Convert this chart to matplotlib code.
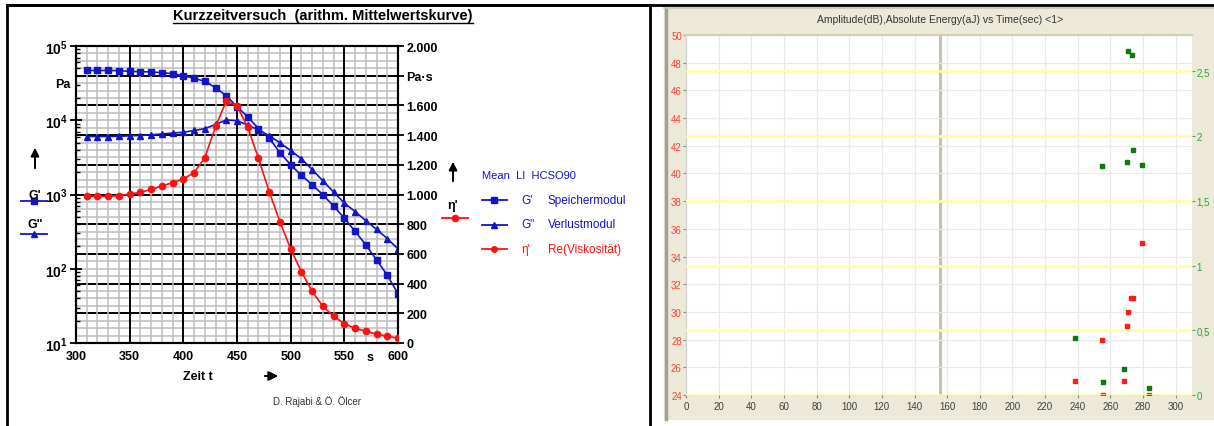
import matplotlib
matplotlib.use('Agg')
import matplotlib.pyplot as plt
from matplotlib.lines import Line2D
from matplotlib.patches import Rectangle
from matplotlib.ticker import FixedFormatter, LogLocator, NullFormatter
from matplotlib.transforms import blended_transform_factory

plt.rcParams['font.family'] = ['Liberation Sans', 'DejaVu Sans']
plt.rcParams['mathtext.fontset'] = 'custom'
plt.rcParams['mathtext.rm'] = 'Liberation Sans'
plt.rcParams['mathtext.bf'] = 'Liberation Sans:bold'

# Kurzzeitversuch: Mittelwerte G', G'' (Pa) und eta' (Pa*s) über der Zeit (s)
zeit = [310, 320, 330, 340, 350, 360, 370, 380, 390, 400,
        410, 420, 430, 440, 450, 460, 470, 480, 490, 500,
        510, 520, 530, 540, 550, 560, 570, 580, 590, 600]
speichermodul = [46800, 46800, 46800, 46500, 45600, 45100, 44700, 43700, 42400, 39800,
                 36700, 33500, 27400, 21400, 15200, 11100, 7740, 5730, 3660, 2510,
                 1810, 1360, 990, 700, 480, 320, 210, 132, 82, 46]
verlustmodul = [6040, 6040, 6040, 6080, 6170, 6230, 6370, 6530, 6730, 6880,
                7280, 7700, 8770, 10100, 9860, 8630, 7390, 6190, 4970, 3910,
                3030, 2170, 1530, 1080, 768, 590, 444, 340, 255, 185]
viskositaet = [988, 988, 988, 992, 1003, 1015, 1034, 1057, 1080, 1104,
               1148, 1247, 1458, 1628, 1598, 1452, 1244, 1019, 817, 633,
               480, 348, 247, 180, 130, 99, 79, 61, 45, 32]
eta_ticks = [0, 200, 400, 600, 800, 1000, 1200, 1400, 1600, 1800, 2000]
eta_ticklabels = ['0', '200', '400', '600', '800', '1.000', '1.200', '1.400', '1.600', 'Pa·s', '2.000']

# Schallemission: Amplitude (dB) und absolute Energie (aJ) über der Zeit (s)
ae_zeit_amp = [238.5, 254.8, 255.3, 268.1, 270.0, 270.9, 272.6, 274.1, 279.4, 283.9]
amplitude = [25, 28, 24, 25, 29, 30, 31, 31, 35, 24]
ae_zeit_energie = [238.5, 255.0, 255.3, 268.1, 270.0, 270.7, 273.3, 274.1, 279.4, 283.9]
energie = [0.44, 1.77, 0.10, 0.20, 1.80, 2.655, 2.627, 1.89, 1.776, 0.052]
energie_ticks = [0, 0.5, 1, 1.5, 2, 2.5]
energie_ticklabels = ['0', '0,5', '1', '1,5', '2', '2,5']
cursor_zeit = 155.6

W, H = 1214, 427
BLAU = '#1414c8'
ROT = '#ff1010'


def box(x0, y0, x1, y1):
    return [x0 / W, 1 - y1 / H, (x1 - x0) / W, (y1 - y0) / H]


def px(x, y):
    return x / W, 1 - y / H


def fig_line(x0, x1, y0, y1, **kw):
    fig.add_artist(Line2D([x0 / W, x1 / W], [1 - y0 / H, 1 - y1 / H], **kw))


def fig_arrow(x0, y0, x1, y1, **kw):
    fig.add_artist(plt.Annotation('', xy=px(x1, y1), xytext=px(x0, y0),
                                  xycoords='figure fraction', textcoords='figure fraction',
                                  arrowprops=dict(arrowstyle='-|>', color='black', lw=1.4, **kw)))


fig = plt.figure(figsize=(W / 100, H / 100), dpi=100)

# ---------- linkes Diagramm ----------
fig.add_artist(Rectangle(px(7, 440), 643 / W, 434 / H, fill=False, lw=2, ec='black'))
fig_line(7, W, 5.5, 5.5, color='black', lw=2)

ax1 = fig.add_axes(box(76, 47, 398, 344))
ax1.set_yscale('log')
ax1.set_xlim(300, 600)
ax1.set_ylim(10, 1e5)
ax2 = ax1.twinx()
ax2.set_ylim(0, 2000)

# Gitter: senkrecht alle 10 s, waagerecht alle 50 Pa*s
ax1.set_xticks(range(300, 601, 50))
ax1.set_xticks(range(300, 601, 10), minor=True)
ax1.grid(which='minor', axis='x', color='#bdbdbd', lw=1.1, zorder=0)
ax1.grid(which='major', axis='x', color='black', lw=1.4, zorder=0.5)
trans = blended_transform_factory(ax1.transAxes, ax2.transData)
for v in range(0, 2001, 50):
    major = v % 200 == 0
    ax1.plot([0, 1], [v, v], transform=trans, color='black' if major else '#bdbdbd',
             lw=1.4 if major else 1.1, zorder=0.5 if major else 0)

ax1.plot(zeit, speichermodul, color=BLAU, lw=1.2, marker='s', ms=5, zorder=3)
ax1.plot(zeit, verlustmodul, color=BLAU, lw=1.2, marker='^', ms=5, zorder=3)
ax2.plot(zeit, viskositaet, color=ROT, lw=1.2, marker='o', ms=4.5, zorder=3)

ax1.yaxis.set_major_locator(LogLocator(base=10, numticks=10))
ax1.yaxis.set_minor_locator(LogLocator(base=10, subs=range(2, 10), numticks=50))
ax1.yaxis.set_minor_formatter(NullFormatter())
ax1.set_yticks([10, 100, 1000, 10000, 100000])
ax1.set_yticklabels([r'$\mathbf{10^{%d}}$' % e for e in range(1, 6)])
ax1.tick_params(axis='y', which='major', direction='inout', length=8, width=1.3,
                labelsize=10, pad=2)
ax1.tick_params(axis='y', which='minor', direction='in', length=3, width=1)
ax1.tick_params(axis='x', which='both', length=0, labelsize=9, pad=5)
for lbl in ax1.get_xticklabels():
    lbl.set_fontweight('bold')

ax2.set_yticks(eta_ticks)
ax2.yaxis.set_major_formatter(FixedFormatter(eta_ticklabels))
ax2.tick_params(axis='y', direction='out', length=4, width=1.3, labelsize=9, pad=2)
for lbl in ax2.get_yticklabels():
    lbl.set_fontweight('bold')
for ax in (ax1, ax2):
    for sp in ax.spines.values():
        sp.set_linewidth(1.5)

titel = fig.text(*px(323, 16), 'Kurzzeitversuch  (arithm. Mittelwertskurve)',
                 ha='center', va='center', fontsize=10.5, fontweight='bold')
fig.canvas.draw()
bb = titel.get_window_extent()
fig.add_artist(Line2D([bb.x0 / W, bb.x1 / W], [(bb.y0 - 1) / H] * 2, color='black', lw=1))

fig.text(*px(55, 85), 'Pa', fontsize=9, fontweight='bold', va='center')
fig.text(*px(370, 358), 's', fontsize=9, fontweight='bold', va='center', ha='center')
fig.text(*px(183, 377), 'Zeit t', fontsize=9, fontweight='bold', va='center')
fig_arrow(262, 377, 281, 377, mutation_scale=14)
fig.text(*px(273, 402), 'D. Rajabi & Ö. Ölcer', fontsize=7, color='#333333', va='center')

# Achsenbeschriftung links (G', G'') und rechts (eta')
fig_arrow(35, 172, 35, 146, mutation_scale=12)
fig.text(*px(35, 196), "G'", fontsize=9, fontweight='bold', ha='center', va='center')
fig_line(21, 47, 202, 202, color=BLAU, lw=1.3)
fig.add_artist(Line2D([34 / W], [1 - 202 / H], marker='s', ms=5, color=BLAU))
fig.text(*px(35, 225), 'G"', fontsize=9, fontweight='bold', ha='center', va='center')
fig_line(21, 47, 235, 235, color=BLAU, lw=1.3)
fig.add_artist(Line2D([34 / W], [1 - 235 / H], marker='^', ms=5, color=BLAU))

fig_arrow(453, 185, 453, 160, mutation_scale=12)
fig.text(*px(453, 206), "η'", fontsize=9, fontweight='bold', ha='center', va='center')
fig_line(442, 468, 219, 219, color=ROT, lw=1.3)
fig.add_artist(Line2D([455 / W], [1 - 219 / H], marker='o', ms=4.5, color=ROT))

# Legende
fig.text(*px(482, 176), 'Mean  LI  HCSO90', fontsize=8, color=BLAU, va='center')
legende = [("G'", 'Speichermodul', BLAU, 's'),
           ('G"', 'Verlustmodul', BLAU, '^'),
           ("η'", 'Re(Viskosität)', ROT, 'o')]
for i, (sym, name, col, mk) in enumerate(legende):
    y = 201 + i * 24.5
    fig_line(482, 507, y, y, color=col, lw=1.3)
    fig.add_artist(Line2D([494 / W], [1 - y / H], marker=mk, ms=4, color=col))
    fig.text(*px(521, y), sym, fontsize=8.5, color=col, va='center')
    fig.text(*px(548, y), name, fontsize=8.5, color=col, va='center')

# ---------- rechtes Diagramm (Schallemission) ----------
fig.add_artist(Rectangle(px(664, 420), (W - 664) / W, 412 / H, color='#ece9d8', zorder=-5))
fig_line(665.5, 665.5, 9, 420, color='#a2a292', lw=2.5, zorder=-4)
fig_line(664, W, 9, 9, color='#c8c6b6', lw=1.2, zorder=-4)

ax3 = fig.add_axes(box(686, 36, 1192, 396))
ax3.set_facecolor('white')
ax3.set_xlim(0, 310)
ax3.set_ylim(24, 50)
ax4 = ax3.twinx()
ax4.set_ylim(0, 2.78)

ax3.set_xticks(range(0, 301, 20))
ax3.set_yticks(range(24, 51, 2))
ax3.grid(color='#e9e9e9', lw=0.9, zorder=0)
ax3.axvline(cursor_zeit, color='#c6c2aa', lw=2.2, zorder=1)
ax4.set_yticks(energie_ticks)
ax4.yaxis.set_major_formatter(FixedFormatter(energie_ticklabels))
for v in energie_ticks:
    ax4.axhline(v, color='#ffffa0', lw=1.8, zorder=1)

ax3.plot(ae_zeit_amp, amplitude, ls='none', marker='s', ms=3.4, color='#ff1a1a', zorder=4)
ax4.plot(ae_zeit_energie, energie, ls='none', marker='s', ms=3.4, color='#0a7a0a', zorder=4)

ax3.tick_params(axis='x', length=2, color='#888888', labelsize=7, labelcolor='#404040', pad=2)
ax3.tick_params(axis='y', length=2, color='#888888', labelsize=7, labelcolor='#ff4040', pad=1)
ax4.tick_params(axis='y', length=2, color='#888888', labelsize=7, labelcolor='#30a030', pad=1)
for ax in (ax3, ax4):
    for sp in ax.spines.values():
        sp.set_visible(False)
ax3.spines['top'].set_visible(True)
ax3.spines['top'].set_color('#d2ceb4')
ax3.spines['top'].set_linewidth(1.5)
ax3.spines['left'].set_visible(True)
ax3.spines['left'].set_color('#cfcfcf')
ax3.spines['left'].set_linewidth(0.8)

fig.text(*px(940, 20), 'Amplitude(dB),Absolute Energy(aJ) vs Time(sec) <1>',
         fontsize=7.5, color='#333333', ha='center', va='center')

fig.savefig('out.png', dpi=100)
